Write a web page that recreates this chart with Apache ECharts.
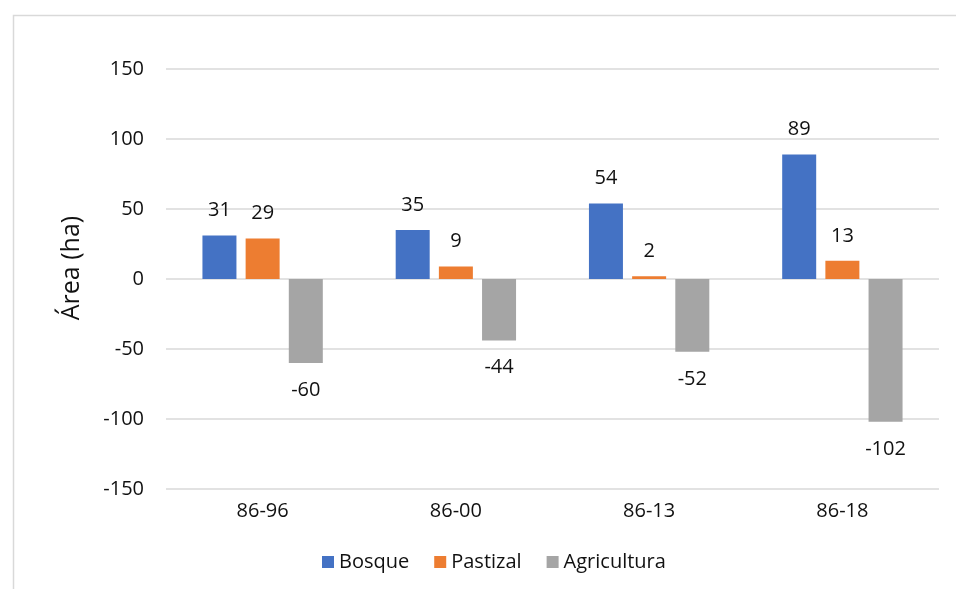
<!DOCTYPE html>
<html>
<head>
<meta charset="utf-8">
<script src="https://cdn.jsdelivr.net/npm/echarts@6/dist/echarts.min.js"></script>
<style>
  html, body { margin: 0; padding: 0; background: #fff; }
  #chart { width: 956px; height: 589px; }
</style>
</head>
<body>
<div id="chart"></div>
<script>
// Periods compared against 1986
const periods = ['86-96', '86-00', '86-13', '86-18'];

// Net change in area (ha) per land-cover class
const bosque = [31, 35, 54, 89];
const pastizal = [29, 9, 2, 13];
const agricultura = [-60, -44, -52, -102];

const seriesNames = ['Bosque', 'Pastizal', 'Agricultura'];
const yTicks = { min: -150, max: 150, step: 50 };
const yTitle = 'Área (ha)';

const FONT = '"Open Sans", "Noto Sans", sans-serif';
const TEXT = '#111111';

function barSeries(name, values, color, pos) {
  return {
    name: name,
    type: 'bar',
    data: values,
    barWidth: 34,
    barGap: '27%',
    itemStyle: { color: color },
    label: {
      show: true,
      position: pos,
      distance: pos === 'top' ? 15 : 17,
      color: TEXT,
      fontFamily: FONT,
      fontSize: 20
    },
    emphasis: { disabled: true }
  };
}

const chart = echarts.init(document.getElementById('chart'), null, { renderer: 'canvas' });

chart.setOption({
  animation: false,
  backgroundColor: '#ffffff',
  graphic: [
    {
      // chart frame
      type: 'rect',
      left: 11,
      top: 13,
      shape: { width: 980, height: 620 },
      style: { fill: 'none', stroke: '#d9d9d9', lineWidth: 1.5 },
      silent: true
    },
    {
      // vertical axis title
      type: 'text',
      x: 72,
      y: 268,
      rotation: Math.PI / 2,
      style: {
        text: yTitle,
        fill: TEXT,
        font: '25px ' + FONT,
        align: 'center',
        verticalAlign: 'middle'
      },
      silent: true
    }
  ],
  grid: { left: 166, right: 17, top: 69, bottom: 100 },
  legend: {
    data: seriesNames,
    left: 317,
    top: 547,
    itemWidth: 12,
    itemHeight: 12,
    itemGap: 25,
    icon: 'rect',
    textStyle: { color: TEXT, fontFamily: FONT, fontSize: 20 }
  },
  xAxis: {
    type: 'category',
    data: periods,
    axisLine: { show: false },
    axisTick: { show: false },
    axisLabel: { color: TEXT, fontFamily: FONT, fontSize: 20, margin: 12 }
  },
  yAxis: {
    type: 'value',
    min: yTicks.min,
    max: yTicks.max,
    interval: yTicks.step,
    axisLine: { show: false },
    axisTick: { show: false },
    axisLabel: { color: TEXT, fontFamily: FONT, fontSize: 20, margin: 22 },
    splitLine: { lineStyle: { color: '#d9d9d9', width: 1.5 } }
  },
  series: [
    barSeries(seriesNames[0], bosque, '#4472C4', 'top'),
    barSeries(seriesNames[1], pastizal, '#ED7D31', 'top'),
    barSeries(seriesNames[2], agricultura, '#A5A5A5', 'bottom')
  ]
});
</script>
</body>
</html>
